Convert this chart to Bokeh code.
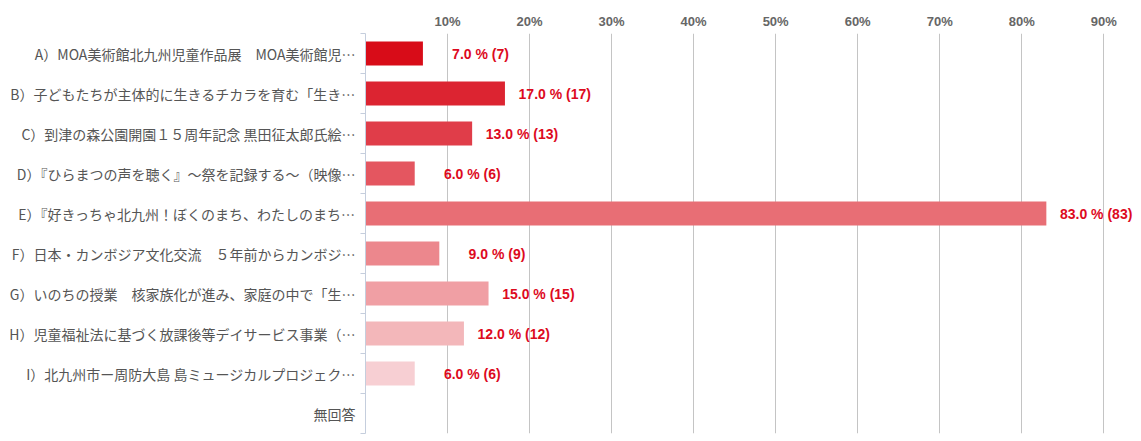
from bokeh.plotting import figure
from bokeh.models import FixedTicker, Range1d, ColumnDataSource
from bokeh.core.properties import value
from bokeh.embed import file_html
from bokeh.resources import INLINE

categories = [
    "A）MOA美術館北九州児童作品展　MOA美術館児…",
    "B）子どもたちが主体的に生きるチカラを育む「生き…",
    "C）到津の森公園開園１５周年記念 黒田征太郎氏絵…",
    "D）『ひらまつの声を聴く』〜祭を記録する〜（映像…",
    "E）『好きっちゃ北九州！ぼくのまち、わたしのまち…",
    "F）日本・カンボジア文化交流　５年前からカンボジ…",
    "G）いのちの授業　核家族化が進み、家庭の中で「生…",
    "H）児童福祉法に基づく放課後等デイサービス事業（…",
    "I）北九州市ー周防大島 島ミュージカルプロジェク…",
    "無回答",
]
percents = [7.0, 17.0, 13.0, 6.0, 83.0, 9.0, 15.0, 12.0, 6.0, 0.0]
counts = [7, 17, 13, 6, 83, 9, 15, 12, 6, 0]
colors = ["#d80c18", "#dc2431", "#e03d49", "#e45660", "#e86e75",
          "#ec878d", "#f09fa4", "#f3b7ba", "#f7cfd3", "#fbe7e9"]
x_ticks = [10, 20, 30, 40, 50, 60, 70, 80, 90]
x_tick_labels = ["10%", "20%", "30%", "40%", "50%", "60%", "70%", "80%", "90%"]

n = len(categories)
centers = [i + 0.5 for i in range(n)]
bounds = [float(i) for i in range(n + 1)]

p = figure(width=1141, height=441, x_range=Range1d(0, 94.6), y_range=Range1d(n, 0),
           output_backend="svg", toolbar_location=None, x_axis_location="above",
           min_border_left=365, min_border_right=0, min_border_top=33, min_border_bottom=8)
p.outline_line_color = None
p.background_fill_color = "white"
p.border_fill_color = "white"

# x axis (top)
xa = p.xaxis[0]
xa.ticker = FixedTicker(ticks=x_ticks, minor_ticks=[])
xa.major_label_overrides = {t: l for t, l in zip(x_ticks, x_tick_labels)}
xa.axis_line_color = None
xa.major_tick_line_color = None
xa.minor_tick_line_color = None
xa.major_tick_out = 0
xa.major_label_standoff = 5
xa.major_label_text_font = "Liberation Sans"
xa.major_label_text_font_style = "bold"
xa.major_label_text_font_size = "13px"
xa.major_label_text_color = "#666666"

p.xgrid.grid_line_color = "#c4c4c4"
p.xgrid.grid_line_width = 1
p.ygrid.grid_line_color = None

# y axis (left)
ya = p.yaxis[0]
ya.ticker = FixedTicker(ticks=centers, minor_ticks=bounds)
ya.major_label_overrides = {c: l for c, l in zip(centers, categories)}
ya.axis_line_color = "#c5cedd"
ya.major_tick_line_color = None
ya.major_tick_out = 0
ya.major_tick_in = 0
ya.minor_tick_line_color = "#c5cedd"
ya.minor_tick_out = 5
ya.minor_tick_in = 0
ya.major_label_standoff = 5
ya.major_label_text_font = "Noto Sans CJK JP"
ya.major_label_text_font_size = "14px"
ya.major_label_text_color = "#555555"

src = ColumnDataSource(dict(y=centers, right=percents, color=colors))
p.hbar(y="y", left=0, right="right", height=0.6, fill_color="color", line_color=None, source=src)

lab_y = [c for c, v in zip(centers, percents) if v > 0]
lab_x = [v for v in percents if v > 0]
lab_t = [f"{v:.1f} % ({c})" for v, c in zip(percents, counts) if v > 0]
lsrc = ColumnDataSource(dict(x=lab_x, y=lab_y, t=lab_t))
p.text(x="x", y="y", text="t", source=lsrc, x_offset=86, text_align="right",
       text_baseline="middle", text_font=value("Liberation Sans"), text_font_style="bold",
       text_font_size="14px", text_color="#dd0a1e")

open("out.html", "w").write(file_html(p, INLINE))
